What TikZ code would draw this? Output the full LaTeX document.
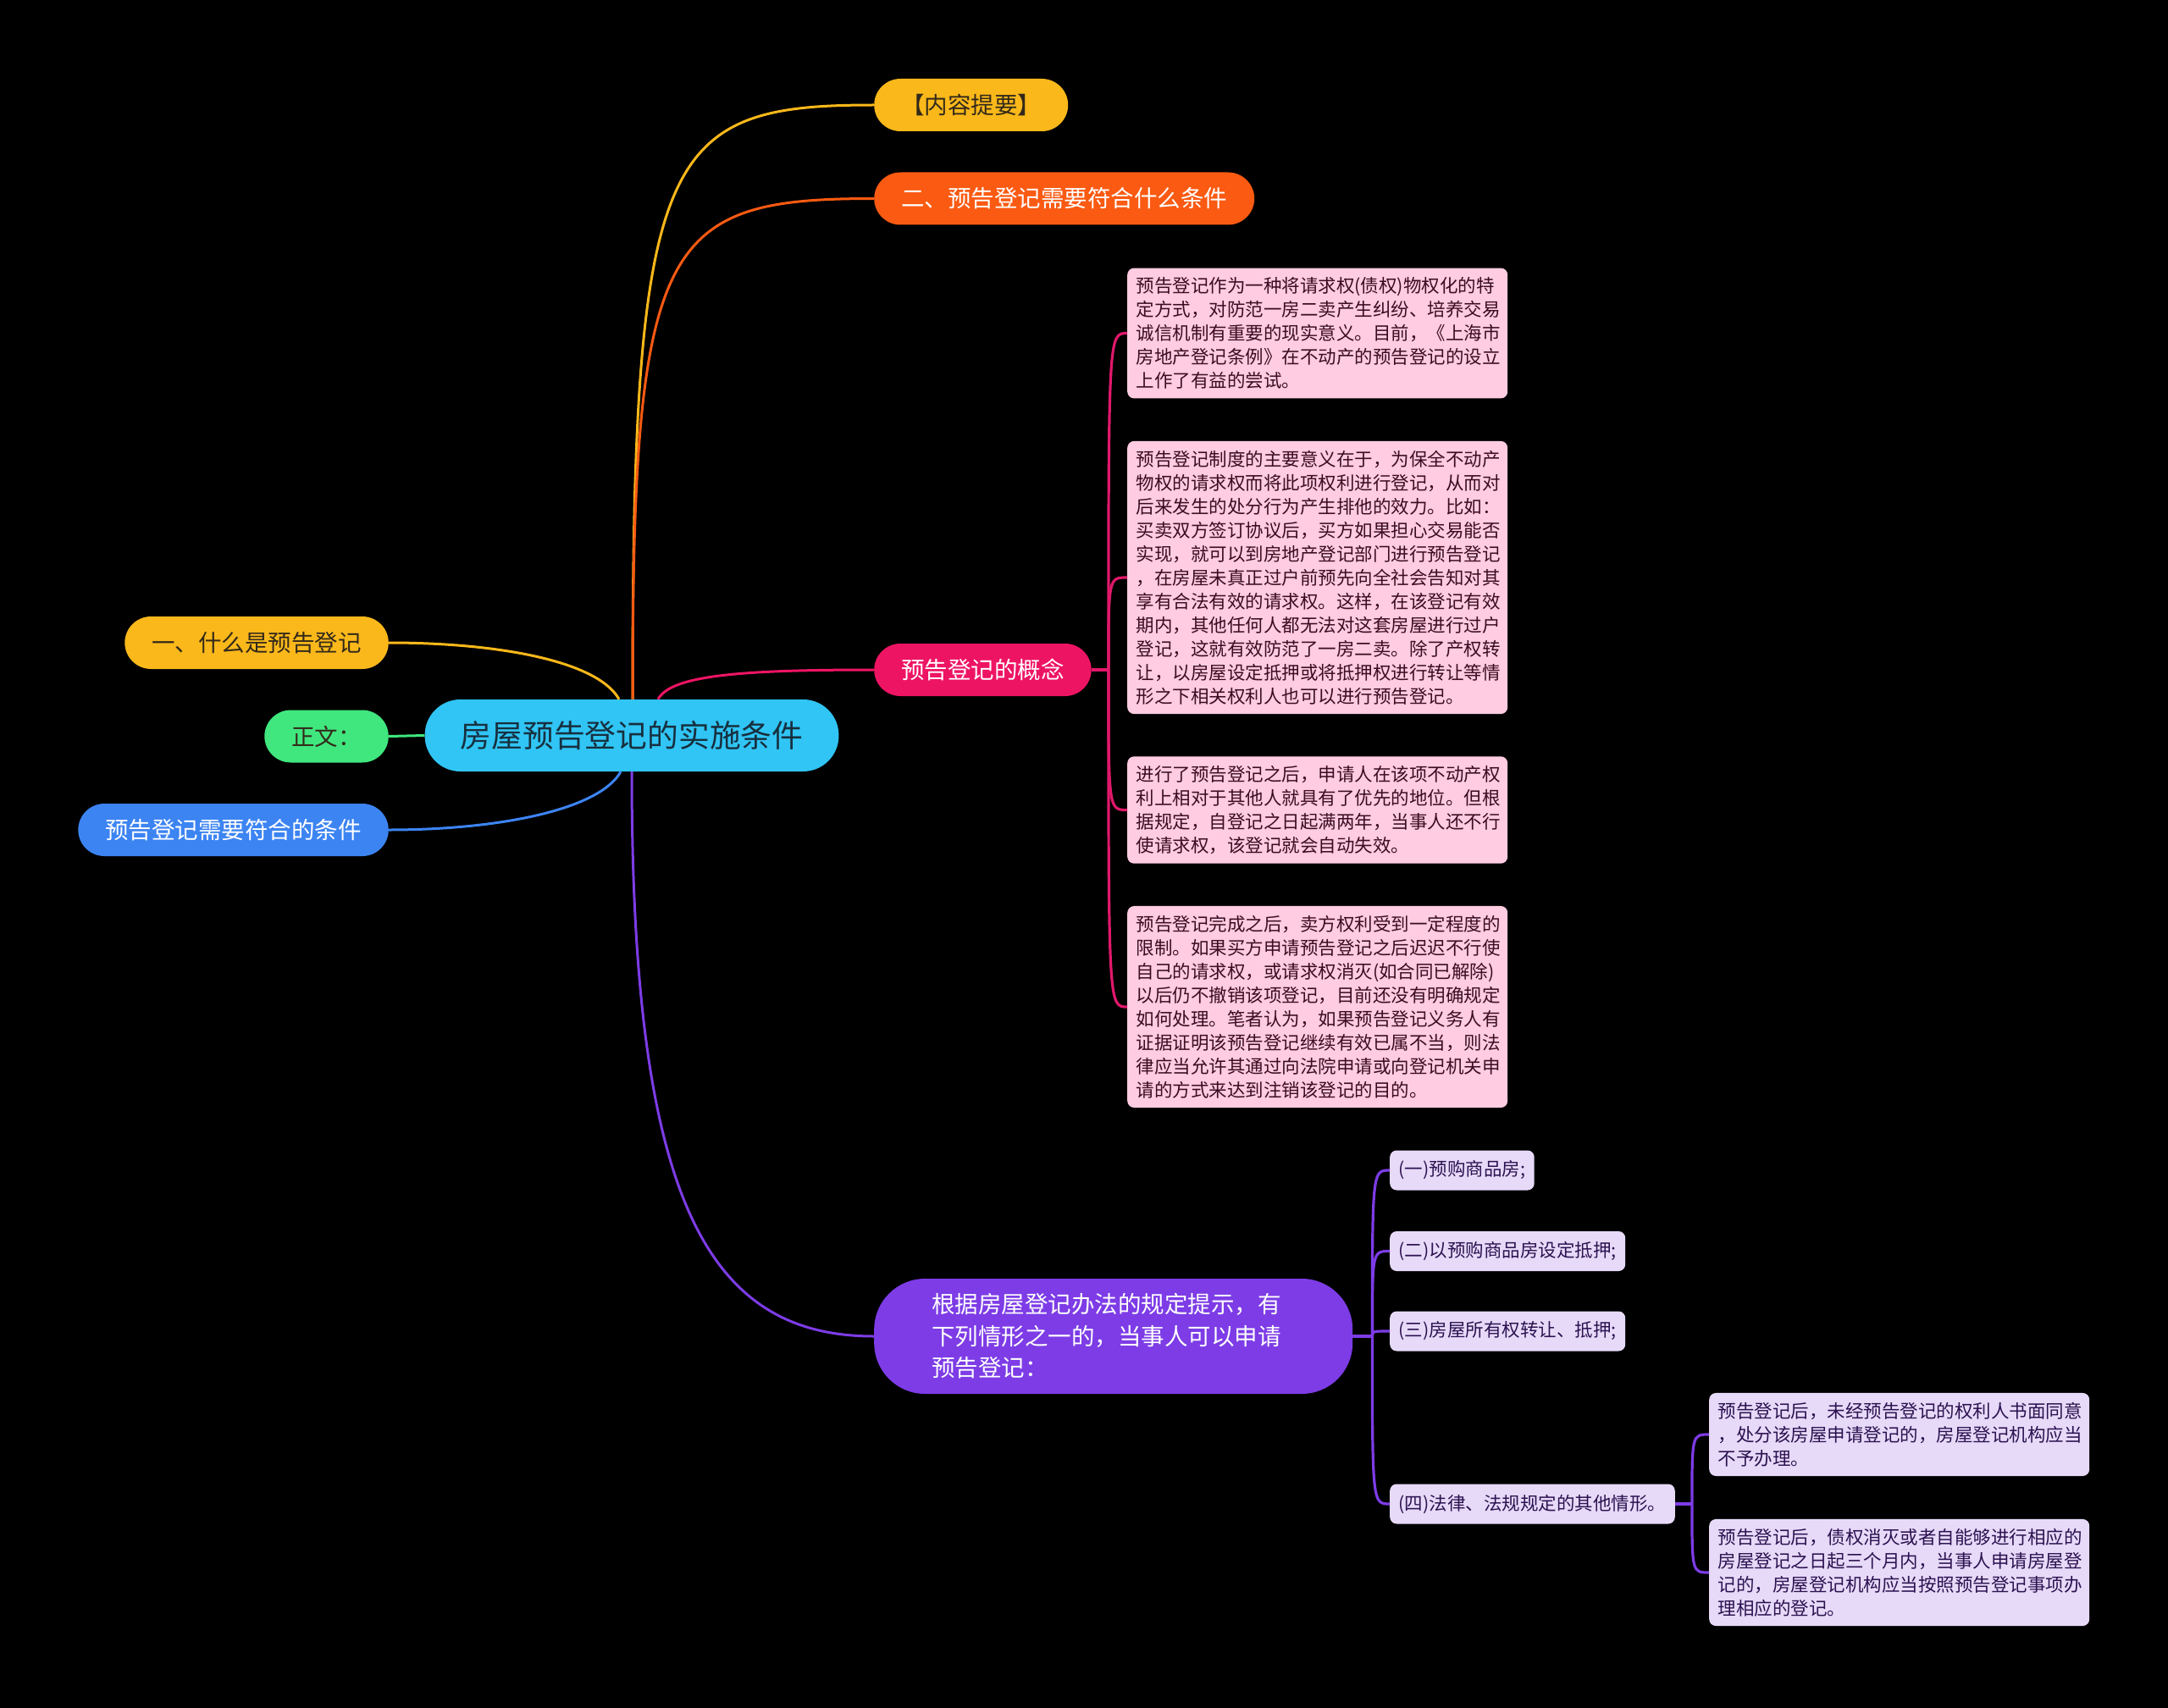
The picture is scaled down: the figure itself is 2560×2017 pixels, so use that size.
\documentclass[tikz,border=0pt]{standalone}
\usepackage{fontspec}
\setmainfont{Noto Sans CJK SC}
\definecolor{rootcyan}{HTML}{30C5F5}
\definecolor{topyellow}{HTML}{FAB81A}
\definecolor{toporange}{HTML}{FA5A12}
\definecolor{toppink}{HTML}{EE1464}
\definecolor{toppurple}{HTML}{7D3CE6}
\definecolor{topgreen}{HTML}{3FE77E}
\definecolor{topblue}{HTML}{3C84F2}
\definecolor{notepink}{HTML}{FFCCE1}
\definecolor{notelilac}{HTML}{E7DAF9}
\definecolor{pinkwire}{HTML}{E0186A}
\definecolor{darktext}{HTML}{33291A}
\definecolor{roottext}{HTML}{17303F}
\definecolor{pinktext}{HTML}{3B0C22}
\definecolor{lilactext}{HTML}{2C1250}
\begin{document}
\begin{tikzpicture}[x=1pt,y=-1pt,
    rootnode/.style={rectangle,rounded corners=42pt,minimum height=85pt,inner xsep=42pt,inner ysep=0pt,
      fill=rootcyan,text=roottext,font=\fontsize{36.8pt}{44pt}\selectfont},
    topic/.style={rectangle,rounded corners=31pt,minimum height=62pt,inner xsep=32pt,inner ysep=0pt,
      font=\fontsize{27.5pt}{37.5pt}\selectfont},
    notebox/.style={rectangle,rounded corners=8pt,inner xsep=10.5pt,inner ysep=11pt,text width=428pt,
      align=left,anchor=west,font=\fontsize{21.5pt}{28pt}\selectfont},
    itembox/.style={rectangle,rounded corners=8pt,minimum height=47pt,inner xsep=10.5pt,inner ysep=0pt,
      anchor=west,fill=notelilac,text=lilactext,font=\fontsize{21.5pt}{28pt}\selectfont},
    wire/.style={line width=3pt},
    subwire/.style={line width=3.2pt}]
  \fill[black] (0,0) rectangle (2560,2017);

  \node[rootnode] (root) at (746,868.5) {房屋预告登记的实施条件};

  \node[topic,anchor=west,fill=topyellow,text=darktext] (kq) at (1032,124) {【内容提要】};
  \node[topic,anchor=west,fill=toporange,text=white] (tj) at (1032,234.5) {二、预告登记需要符合什么条件};
  \node[topic,anchor=west,fill=toppink,text=white] (gn) at (1032,791) {预告登记的概念};
  \node[topic,anchor=west,fill=toppurple,text=white,minimum height=136pt,rounded corners=60pt,
        inner xsep=68pt,text width=429pt,align=left] (qx) at (1032,1578)
    {根据房屋登记办法的规定提示，有\\下列情形之一的，当事人可以申请\\预告登记：};
  \node[topic,anchor=east,fill=topyellow,text=darktext] (sm) at (459,759) {一、什么是预告登记};
  \node[topic,anchor=east,fill=topgreen,text=darktext] (zw) at (459,869.5) {正文：};
  \node[topic,anchor=east,fill=topblue,text=white] (bl) at (459,980) {预告登记需要符合的条件};

  \node[notebox,fill=notepink,text=pinktext] (p1) at (1331,393.5)
    {预告登记作为一种将请求权(债权)物权化的特\\定方式，对防范一房二卖产生纠纷、培养交易\\诚信机制有重要的现实意义。目前，《上海市\\房地产登记条例》在不动产的预告登记的设立\\上作了有益的尝试。};
  \node[notebox,fill=notepink,text=pinktext] (p2) at (1331,682)
    {预告登记制度的主要意义在于，为保全不动产\\物权的请求权而将此项权利进行登记，从而对\\后来发生的处分行为产生排他的效力。比如：\\买卖双方签订协议后，买方如果担心交易能否\\实现，就可以到房地产登记部门进行预告登记\\，在房屋未真正过户前预先向全社会告知对其\\享有合法有效的请求权。这样，在该登记有效\\期内，其他任何人都无法对这套房屋进行过户\\登记，这就有效防范了一房二卖。除了产权转\\让，以房屋设定抵押或将抵押权进行转让等情\\形之下相关权利人也可以进行预告登记。};
  \node[notebox,fill=notepink,text=pinktext] (p3) at (1331,956.5)
    {进行了预告登记之后，申请人在该项不动产权\\利上相对于其他人就具有了优先的地位。但根\\据规定，自登记之日起满两年，当事人还不行\\使请求权，该登记就会自动失效。};
  \node[notebox,fill=notepink,text=pinktext] (p4) at (1331,1189)
    {预告登记完成之后，卖方权利受到一定程度的\\限制。如果买方申请预告登记之后迟迟不行使\\自己的请求权，或请求权消灭(如合同已解除)\\以后仍不撤销该项登记，目前还没有明确规定\\如何处理。笔者认为，如果预告登记义务人有\\证据证明该预告登记继续有效已属不当，则法\\律应当允许其通过向法院申请或向登记机关申\\请的方式来达到注销该登记的目的。};

  \node[itembox] (l1) at (1641,1382) {(一)预购商品房;};
  \node[itembox] (l2) at (1641,1477.5) {(二)以预购商品房设定抵押;};
  \node[itembox] (l3) at (1641,1572) {(三)房屋所有权转让、抵押;};
  \node[itembox] (l4) at (1641,1776) {(四)法律、法规规定的其他情形。};

  \node[notebox,fill=notelilac,text=lilactext] (f1) at (2018,1694)
    {预告登记后，未经预告登记的权利人书面同意\\，处分该房屋申请登记的，房屋登记机构应当\\不予办理。};
  \node[notebox,fill=notelilac,text=lilactext] (f2) at (2018,1857)
    {预告登记后，债权消灭或者自能够进行相应的\\房屋登记之日起三个月内，当事人申请房屋登\\记的，房屋登记机构应当按照预告登记事项办\\理相应的登记。};

  \coordinate (gsp) at ([xshift=20pt]gn.east);
  \coordinate (qsp) at ([xshift=23pt]qx.east);
  \coordinate (fsp) at ([xshift=20pt]l4.east);

  \begin{scope}[wire]
    \draw[topyellow] ([xshift=1pt]root.north) .. controls +(0,-650) and +(-250,0) .. (kq.west);
    \draw[toporange] ([xshift=1pt]root.north) .. controls +(0,-545) and +(-250,0) .. (tj.west);
    \draw[toppink] ([xshift=31pt]root.north) .. controls +(15,-28) and +(-160,0) .. (gn.west);
    \draw[toppurple] (root.south) .. controls +(0,500) and +(-200,0) .. (qx.west);
    \draw[topyellow] ([xshift=-15pt]root.north) .. controls +(-25,-45) and +(130,0) .. (sm.east);
    \draw[topgreen] (root.west) -- (zw.east);
    \draw[topblue] ([xshift=-13pt]root.south) .. controls +(-25,45) and +(130,0) .. (bl.east);
  \end{scope}

  \begin{scope}[subwire,pinkwire]
    \draw (gn.east) -- (gsp);
    \draw (gsp) .. controls (gsp |- p1.west) .. (p1.west);
    \draw (gsp) .. controls (gsp |- p2.west) .. (p2.west);
    \draw (gsp) .. controls (gsp |- p3.west) .. (p3.west);
    \draw (gsp) .. controls (gsp |- p4.west) .. (p4.west);
  \end{scope}

  \begin{scope}[subwire,toppurple]
    \draw (qx.east) -- (qsp);
    \draw (qsp) .. controls (qsp |- l1.west) .. (l1.west);
    \draw (qsp) .. controls (qsp |- l2.west) .. (l2.west);
    \draw (qsp) .. controls (qsp |- l3.west) .. (l3.west);
    \draw (qsp) .. controls (qsp |- l4.west) .. (l4.west);
    \draw (l4.east) -- (fsp);
    \draw (fsp) .. controls (fsp |- f1.west) .. (f1.west);
    \draw (fsp) .. controls (fsp |- f2.west) .. (f2.west);
  \end{scope}
\end{tikzpicture}
\end{document}
